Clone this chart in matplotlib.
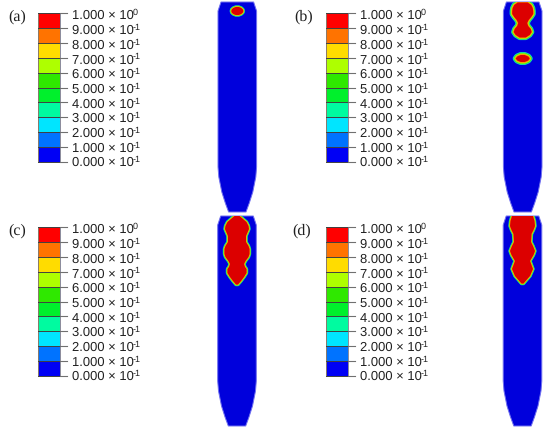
import matplotlib
matplotlib.use('Agg')
import matplotlib.pyplot as plt

# colour legend, top to bottom
LEVEL_LABELS = ['1.000', '9.000', '8.000', '7.000', '6.000', '5.000', '4.000', '3.000', '2.000', '1.000', '0.000']
LEVEL_EXPONENTS = ['0', '-1', '-1', '-1', '-1', '-1', '-1', '-1', '-1', '-1', '-1']
BAND_COLORS = ['#ff0000', '#ff7300', '#ffdc00', '#aeff00', '#2fe800', '#00f02c', '#00fba0', '#00e5ff', '#0073ff', '#0000f5']

# specimen outline: depth below top [px], half width [px]
BODY_DEPTH = [0, 9, 165, 175, 190, 201, 210]
BODY_HALF = [16.3, 19.3, 19.3, 18.5, 15.5, 12, 8.7]

# damaged zone outlines: depth below top, half width
A_DEPTH = [5, 6, 7.5, 9, 10.5, 12, 13]
A_HALF = [1.5, 4, 5.6, 6, 5.6, 4, 1.5]

B_DEPTH = [0.5, 3, 6, 9, 12, 15, 18, 21, 24, 27, 30, 33, 35.5]
B_HALF = [5, 8.5, 10, 10.5, 10.5, 8.5, 6, 4.5, 5.5, 8, 9, 7, 3]
B2_DEPTH = [53, 54.5, 56.5, 58.5, 60]
B2_HALF = [2, 5.5, 7, 5.5, 2]

C_DEPTH = [0, 3, 6, 10, 13, 20, 26, 30, 33, 38, 41, 45, 48, 51, 53, 57, 61, 65, 68.5]
C_HALF = [2.5, 6, 9.5, 11.5, 12, 9, 9, 11.5, 12.5, 12.5, 11.5, 8.5, 7, 8, 9.5, 9.5, 7, 4, 1]

D_DEPTH = [0, 5, 10, 14, 18, 26, 30, 35, 39, 45, 49, 53, 60, 64, 67.5]
D_HALF = [10.5, 12, 12.5, 11, 9, 8.5, 10.5, 12.5, 11, 7.5, 9, 10.5, 7.5, 4, 1]

# panel name, name x, legend left x, legend top y, body centre x, body top y, zones with edge width
PANELS = [
    ('(a)', 8, 38, 14, 237.3, 3, [(A_DEPTH, A_HALF, 1.7)]),
    ('(b)', 294, 326, 14, 522.7, 3, [(B_DEPTH, B_HALF, 2.6), (B2_DEPTH, B2_HALF, 3.0)]),
    ('(c)', 8, 38, 228, 237, 217, [(C_DEPTH, C_HALF, 1.7)]),
    ('(d)', 292, 326, 228, 522.5, 217, [(D_DEPTH, D_HALF, 1.7)]),
]

# zone edge colours, outermost first, with share of the edge width
EDGE_COLORS = ['#10d8c0', '#30e830', '#c8e800', '#ff9000']
EDGE_SHARE = [1.0, 0.75, 0.5, 0.25]
BAR_W = 21.5
BAND_H = 14.9
LABEL_STEP = 14.7
PX = 0.72  # points per pixel at dpi 100


def draw_legend(ax, x0, y0):
    for i, color in enumerate(BAND_COLORS):
        ax.fill_between([x0, x0 + BAR_W], y0 + i * BAND_H, y0 + (i + 1) * BAND_H, color=color, lw=0)
    ax.plot([x0, x0], [y0, y0 + 10 * BAND_H], color='#8a7a6a', lw=0.7)
    ax.plot([x0 + BAR_W, x0 + BAR_W], [y0, y0 + 10 * BAND_H], color='#8a8a9a', lw=0.7)
    for i in range(11):
        y = y0 + i * BAND_H
        ax.plot([x0, x0 + BAR_W], [y, y], color='#404040', lw=0.7)
        ax.plot([x0 + BAR_W, x0 + BAR_W + 7.5], [y, y], color='#707070', lw=0.8)
    for i, (label, exponent) in enumerate(zip(LEVEL_LABELS, LEVEL_EXPONENTS)):
        y = y0 + 2 + i * LABEL_STEP
        ax.text(x0 + 33.5, y, f'{label} × 10', fontsize=9.3, va='center', color='#202020')
        ax.text(x0 + 94.5, y - 3, exponent, fontsize=6.2, va='center', color='#202020')


def draw_zone(ax, body, cx, top, depth, half, edge):
    ys = [top + d for d in depth] + [top + d for d in depth[::-1]]
    xs = [cx - h for h in half] + [cx + h for h in half[::-1]]
    for share, color in zip(EDGE_SHARE, EDGE_COLORS):
        for patch in ax.fill(xs, ys, fc=color, ec=color, lw=2 * edge * share * PX, joinstyle='round'):
            patch.set_clip_path(body)
    for patch in ax.fill(xs, ys, fc='#dc0000', lw=0):
        patch.set_clip_path(body)


def main():
    plt.rcParams['font.family'] = ['Liberation Sans', 'DejaVu Sans']
    plt.rcParams['text.hinting'] = 'no_hinting'
    plt.rcParams['text.hinting_factor'] = 1

    fig = plt.figure(figsize=(5.5, 4.35), dpi=100)
    ax = fig.add_axes([0, 0, 1, 1])
    ax.set_xlim(0, 550)
    ax.set_ylim(435, 0)
    ax.axis('off')

    for name, name_x, lx, ly, cx, top, zones in PANELS:
        ax.text(name_x, ly + 3, name, fontsize=11.5, family='Liberation Serif', va='center', color='#202020')
        draw_legend(ax, lx, ly)
        ys = [top + d for d in BODY_DEPTH]
        ys = ys + ys[::-1]
        xs = [cx - h for h in BODY_HALF] + [cx + h for h in BODY_HALF[::-1]]
        body = ax.fill(xs, ys, fc='#0000dc', ec='#7070f0', lw=0.7)[0]
        for depth, half, edge in zones:
            draw_zone(ax, body, cx, top, depth, half, edge)

    fig.savefig('out.png', dpi=100)


if __name__ == '__main__':
    main()
